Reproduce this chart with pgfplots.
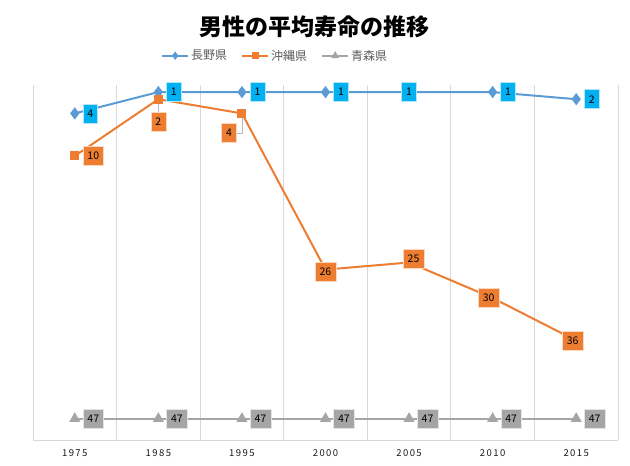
\documentclass[border=0pt]{standalone}
\usepackage{pgfplots}
\pgfplotsset{compat=1.18}
\usepackage{fontspec}
\setmainfont{Noto Sans CJK JP}
\definecolor{nagano}{HTML}{5B9BD5}
\definecolor{naganolab}{HTML}{00B0F0}
\definecolor{okinawa}{HTML}{ED7D31}
\definecolor{aomori}{HTML}{A5A5A5}
\definecolor{gridc}{HTML}{D9D9D9}
\definecolor{txt}{HTML}{595959}
\tikzset{
  lab/.style={anchor=center, xshift=\dx pt, yshift=\dy pt, fill=#1, draw=white!70!#1, line width=0.5pt,
    text=black, font=\fontsize{10.5}{12}\selectfont, inner xsep=4.5pt, inner ysep=0pt, minimum height=19pt},
}
\begin{document}
\begin{tikzpicture}[x=1pt,y=1pt]
\path[use as bounding box] (0,0) rectangle (630,466);
\begin{axis}[
  at={(33pt,26pt)}, anchor=south west,
  scale only axis, width=585pt, height=355pt,
  xmin=-0.5, xmax=6.5, ymin=-50, ymax=0,
  axis y line=none, axis x line=bottom,
  x axis line style={draw=gridc, -, line width=0.8pt},
  xtick={0,...,6}, xticklabels={1975,1985,1995,2000,2005,2010,2015},
  minor xtick={-0.5,0.5,...,6.5}, xminorgrids=true, xmajorgrids=false,
  minor grid style={draw=gridc, line width=0.8pt},
  major tick length=0pt, minor tick length=0pt,
  xticklabel style={font=\fontsize{9.5}{11}\selectfont\addfontfeatures{LetterSpace=15}, text=black!90, yshift=-6pt},
  title={男性の平均寿命の推移},
  title style={at={(0.482,1.147)}, anchor=center, font=\fontsize{23}{26}\selectfont\bfseries},
  legend columns=3,
  legend style={at={(0.414,1.0825)}, anchor=center, draw=none, fill=none,
    font=\fontsize{12}{14}\selectfont, text=txt,
    /tikz/every even column/.append style={column sep=12pt}},
  legend image code/.code={\draw[mark repeat=2,mark phase=2,#1, mark size=2.6pt] plot coordinates {(0pt,0pt)(13pt,0pt)(26pt,0pt)};},
  nodes near coords, point meta=explicit symbolic,
  nodes near coords align=center,
  visualization depends on={\thisrow{dx} \as \dx},
  visualization depends on={\thisrow{dy} \as \dy},
  clip=false,
]
\addplot[nagano, line width=2pt, mark=diamond*, mark size=4.5pt, mark options={solid, fill=nagano},
  nodes near coords style={lab=naganolab}]
  table[x=x, y expr=-\thisrow{r}, meta=r] {
x r dx dy
0 4 15.5 0
1 1 15.5 0
2 1 15.5 0
3 1 15.5 0
4 1 0 0
5 1 15.5 0
6 2 15.5 0
};
\addlegendentry{長野県}
\addplot[okinawa, line width=2pt, mark=square*, mark size=3.5pt, mark options={solid, fill=okinawa},
  nodes near coords style={lab=okinawa}]
  table[x=x, y expr=-\thisrow{r}, meta=r] {
x r dx dy
0 10 18.5 0
1 2 0 -22.5
2 4 -13 -19.6
3 26 0 -2
4 25 4.5 4
5 30 -4 0
6 36 -3.5 0
};
\addlegendentry{沖縄県}
\addplot[aomori, line width=2pt, mark=triangle*, mark size=4.5pt, mark options={solid, fill=aomori},
  nodes near coords style={lab=aomori}]
  table[x=x, y expr=-\thisrow{r}, meta=r] {
x r dx dy
0 47 18.5 0
1 47 18.5 0
2 47 18.5 0
3 47 18.5 0
4 47 18.5 0
5 47 18.5 0
6 47 18.5 0
};
\addlegendentry{青森県}
\draw[gray!55, line width=0.7pt] (axis cs:1,-2) ++(0pt,-4.5pt) -- ++(0pt,-8.5pt);
\draw[gray!55, line width=0.7pt] (axis cs:2,-4) ++(0pt,-4.5pt) -- ++(0pt,-15.1pt) -- ++(-5.5pt,0pt);
\end{axis}
\end{tikzpicture}
\end{document}
